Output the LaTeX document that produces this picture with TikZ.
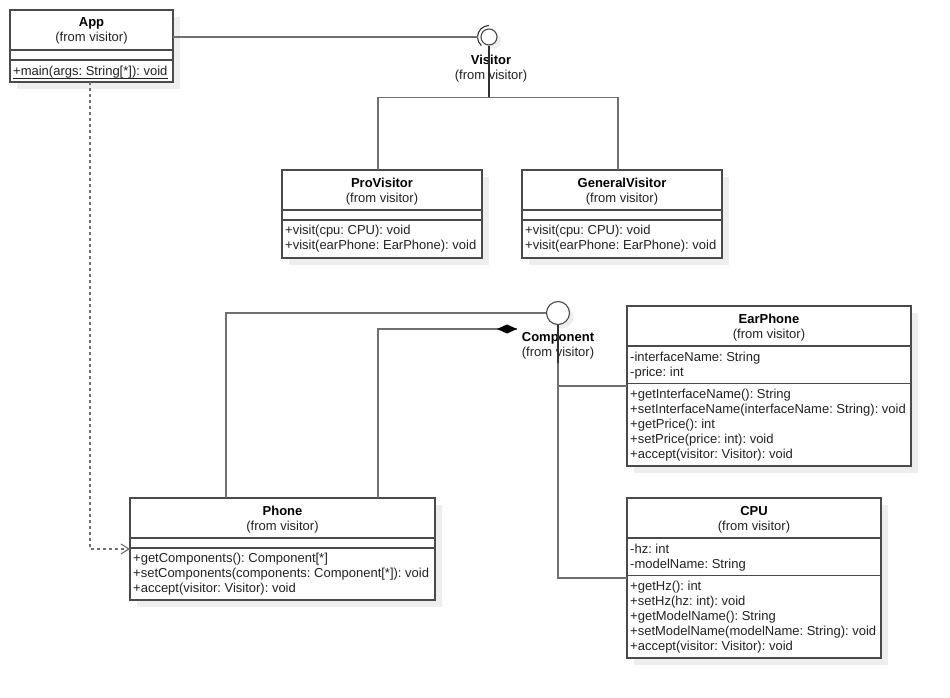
\documentclass[tikz,border=0pt]{standalone}
\usepackage{fontspec}
\setmainfont{Liberation Sans}
\frenchspacing
\usetikzlibrary{arrows.meta,calc,shadows}
\definecolor{boxline}{HTML}{4A4A4A}
\definecolor{connline}{HTML}{707070}
\definecolor{darkline}{HTML}{303030}
\definecolor{shadowc}{HTML}{EEEEEE}
\definecolor{txt}{HTML}{222222}
\tikzset{
  cls/.style={draw=boxline, line width=1.1pt, fill=white, inner sep=0pt, outer sep=0pt,
    drop shadow={shadow xshift=7pt, shadow yshift=-7pt, fill=shadowc, opacity=1}},
  sepl/.style={draw=boxline, line width=1.1pt},
  ttl/.style={inner sep=0pt, font=\fontsize{13}{15}\selectfont\bfseries, text=black},
  sub/.style={inner sep=0pt, font=\fontsize{13}{15}\selectfont, text=txt},
  mem/.style={inner sep=0pt, font=\fontsize{13}{15}\selectfont, text=txt},
  conn/.style={draw=connline, line width=1.5pt},
  darkconn/.style={draw=darkline, line width=1.9pt},
  depline/.style={draw=connline, line width=1.4pt, dash pattern=on 3pt off 3pt,
    -{Straight Barb[length=8pt, width=10pt, line width=1.1pt]}},
  lolly/.style={circle, draw=boxline, line width=1.1pt, fill=white, inner sep=0pt,
    drop shadow={shadow xshift=4pt, shadow yshift=-4pt, fill=shadowc, opacity=1}},
}
\newcommand\umlbox[6]{%
  \node[cls, minimum width=#4pt, minimum height=#5pt, anchor=north west] (#1) at (#2,#3) {};
  \node[ttl, anchor=base] (#1-title) at ([yshift=-17pt]#1.north) {#6};
  \node[sub, anchor=base] (#1-from) at ([yshift=-32pt]#1.north) {(from visitor)};
}
\newcommand\sepline[2]{\draw[sepl] ([yshift=-#2pt]#1.north west) -- ([yshift=-#2pt]#1.north east);}
\newcommand\memb[4]{\node[mem, anchor=base west] (#1-#2) at ([shift={(3pt,-#3pt)}]#1.north west) {#4};}
\begin{document}
\begin{tikzpicture}[x=1pt, y=-1pt]
\useasboundingbox (0,0) rectangle (950,698);

% ---------- App ----------
\umlbox{app}{10}{10}{163}{72}{App}
\sepline{app}{40}\sepline{app}{50}
\memb{app}{m1}{65.5}{+main(args: String[*]): void}
\draw[draw=txt, line width=0.8pt] ([yshift=-2.5pt]app-m1.base west) -- ([yshift=-2.5pt]app-m1.base east);

% ---------- ProVisitor ----------
\umlbox{prov}{282}{170}{200}{88}{ProVisitor}
\sepline{prov}{40}\sepline{prov}{50}
\memb{prov}{m1}{64.5}{+visit(cpu: CPU): void}
\memb{prov}{m2}{79.5}{+visit(earPhone: EarPhone): void}

% ---------- GeneralVisitor ----------
\umlbox{genv}{522}{170}{200}{88}{GeneralVisitor}
\sepline{genv}{40}\sepline{genv}{50}
\memb{genv}{m1}{64.5}{+visit(cpu: CPU): void}
\memb{genv}{m2}{79.5}{+visit(earPhone: EarPhone): void}

% ---------- EarPhone ----------
\umlbox{earp}{627}{306}{284}{160}{EarPhone}
\sepline{earp}{40}\sepline{earp}{77.5}
\memb{earp}{a1}{55}{-interfaceName: String}
\memb{earp}{a2}{70}{-price: int}
\memb{earp}{m1}{92.5}{+getInterfaceName(): String}
\memb{earp}{m2}{107.5}{+setInterfaceName(interfaceName: String): void}
\memb{earp}{m3}{122.5}{+getPrice(): int}
\memb{earp}{m4}{137.5}{+setPrice(price: int): void}
\memb{earp}{m5}{152.5}{+accept(visitor: Visitor): void}

% ---------- CPU ----------
\umlbox{cpu}{627}{498}{254}{160}{CPU}
\sepline{cpu}{40}\sepline{cpu}{77.5}
\memb{cpu}{a1}{55}{-hz: int}
\memb{cpu}{a2}{70}{-modelName: String}
\memb{cpu}{m1}{92.5}{+getHz(): int}
\memb{cpu}{m2}{107.5}{+setHz(hz: int): void}
\memb{cpu}{m3}{122.5}{+getModelName(): String}
\memb{cpu}{m4}{137.5}{+setModelName(modelName: String): void}
\memb{cpu}{m5}{152.5}{+accept(visitor: Visitor): void}

% ---------- Phone ----------
\umlbox{phone}{130}{498}{305}{102}{Phone}
\sepline{phone}{40}\sepline{phone}{50}
\memb{phone}{m1}{64}{+getComponents(): Component[*]}
\memb{phone}{m2}{79}{+setComponents(components: Component[*]): void}
\memb{phone}{m3}{94}{+accept(visitor: Visitor): void}

% ---------- Visitor interface ----------
\node[lolly, minimum size=16pt] (vis) at (489,37) {};
\draw[draw=darkline, line width=1.1pt] ([shift={(90:11.5pt)}]vis.center) arc[start angle=90, end angle=228, radius=11.5pt];
\node[ttl, anchor=base] (vis-name) at (491,65) {Visitor};
\node[sub, anchor=base] (vis-from) at (491,80) {(from visitor)};
\coordinate (vjoin) at (489,97.5);

% ---------- Component interface ----------
\node[lolly, minimum size=23pt] (comp) at (558,313) {};
\node[ttl, anchor=base] (comp-name) at (558,341.5) {Component};
\node[sub, anchor=base] (comp-from) at (558,356.5) {(from visitor)};
\coordinate (ctip) at (517,329);

% ---------- connectors ----------
\draw[conn] (app.east |- vis) -- ([xshift=-11.5pt]vis.center);
\draw[darkconn] (vis.south) -- (vjoin);
\draw[conn] ([xshift=-4pt]prov.north) |- (vjoin) -| ([xshift=-4pt]genv.north);

\draw[conn] (comp.west) -| ([xshift=96pt]phone.north west);
\draw[conn] ([xshift=248pt]phone.north west) |- (ctip);
\fill[black] (ctip) -- ++(-10,-4.5) -- ++(-10,4.5) -- ++(10,4.5) -- cycle;
\draw[conn] (comp.south) |- (earp.west);
\draw[conn] (comp.south) |- (cpu.west);
\draw[draw=darkline, line width=1.6pt] (comp.south) -- ++(0,38);

\draw[depline] ([xshift=-1.5pt]app.south) |- (phone.west);
\end{tikzpicture}
\end{document}
